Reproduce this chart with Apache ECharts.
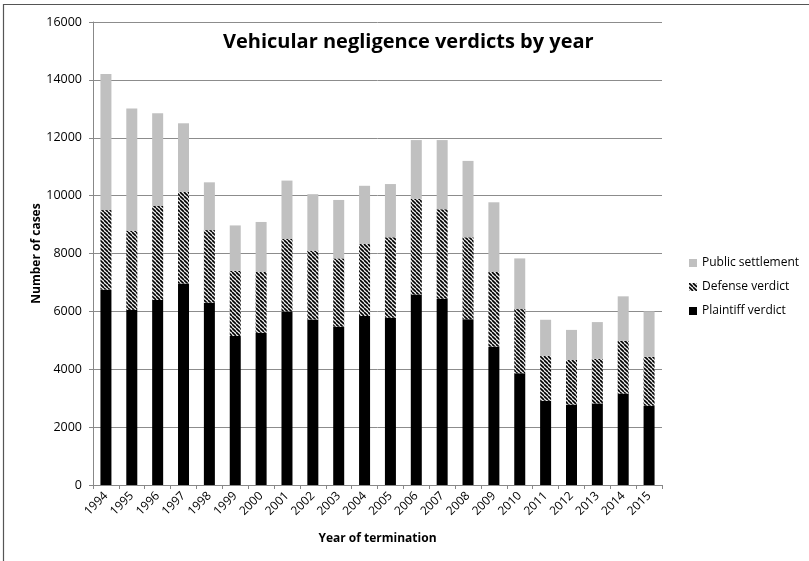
<!DOCTYPE html>
<html>
<head>
<meta charset="utf-8">
<script src="https://cdn.jsdelivr.net/npm/echarts@6/dist/echarts.min.js"></script>
<style>
  html, body { margin: 0; padding: 0; background: #fff; }
  #chart { width: 809px; height: 561px; }
</style>
</head>
<body>
<div id="chart"></div>
<script>
// years on the x axis
const years = ["1994", "1995", "1996", "1997", "1998", "1999", "2000", "2001", "2002", "2003", "2004",
  "2005", "2006", "2007", "2008", "2009", "2010", "2011", "2012", "2013", "2014", "2015"];

// stacked segments
const plaintiff = [6750, 6050, 6390, 6960, 6300, 5150, 5260, 6000, 5720, 5470, 5840,
  5780, 6580, 6440, 5730, 4780, 3860, 2910, 2780, 2820, 3160, 2740];
const defense = [2750, 2740, 3250, 3170, 2510, 2250, 2100, 2500, 2380, 2360, 2490,
  2780, 3310, 3090, 2830, 2580, 2220, 1550, 1540, 1540, 1820, 1690];
const publicSettlement = [4700, 4220, 3210, 2370, 1650, 1570, 1730, 2020, 1950, 2020, 2010,
  1840, 2030, 2390, 2640, 2410, 1750, 1250, 1040, 1270, 1540, 1570];

const font = "'Open Sans', sans-serif";

// hatch for the defense bars
function hatch() {
  var c = document.createElement("canvas");
  c.width = 4;
  c.height = 4;
  var ctx = c.getContext("2d");
  ctx.fillStyle = "#f2f2f2";
  ctx.fillRect(0, 0, 4, 4);
  ctx.strokeStyle = "#000";
  ctx.lineWidth = 1.6;
  [-4, 0, 4].forEach(function(k) {
    ctx.beginPath();
    ctx.moveTo(k, 0);
    ctx.lineTo(k + 4, 4);
    ctx.stroke();
  });
  return c;
}

var myChart = echarts.init(document.getElementById("chart"));
var option = {
  animation: false,
  backgroundColor: "#fff",
  title: {
    text: "Vehicular negligence verdicts by year",
    left: 218,
    top: 27,
    textStyle: { fontFamily: font, fontWeight: "bold", fontSize: 20, color: "#000" },
  },
  graphic: [
    {
      type: "rect",
      shape: { x: 3.5, y: 4.5, width: 900, height: 700 },
      style: { fill: "none", stroke: "#555", lineWidth: 1.2 },
      silent: true,
    },
  ],
  legend: {
    orient: "vertical",
    left: 684,
    top: 252,
    icon: "rect",
    itemWidth: 8,
    itemHeight: 8,
    itemGap: 12,
    textStyle: { fontFamily: font, fontSize: 12, color: "#000" },
    data: ["Public settlement", "Defense verdict", "Plaintiff verdict"],
  },
  grid: { left: 93, right: 147, top: 22, bottom: 76 },
  xAxis: {
    type: "category",
    data: years,
    name: "Year of termination",
    nameLocation: "middle",
    nameGap: 48,
    nameTextStyle: { fontFamily: font, fontWeight: "bold", fontSize: 12, color: "#000" },
    axisLine: { lineStyle: { color: "#888" } },
    axisTick: { show: true, alignWithLabel: false, length: 4, lineStyle: { color: "#888" } },
    axisLabel: { rotate: 45, fontFamily: font, fontSize: 12, color: "#000", margin: 9 },
  },
  yAxis: {
    type: "value",
    min: 0,
    max: 16000,
    interval: 2000,
    name: "Number of cases",
    nameLocation: "middle",
    nameGap: 50,
    nameMoveOverlap: false,
    nameTextStyle: { fontFamily: font, fontWeight: "bold", fontSize: 12, color: "#000" },
    axisLine: { show: true, lineStyle: { color: "#888" } },
    axisTick: { show: true, length: 4, lineStyle: { color: "#888" } },
    axisLabel: {
      fontFamily: font,
      fontSize: 12.5,
      color: "#000",
      margin: 11,
      formatter: function(v) {
        return String(v);
      },
    },
    splitLine: { lineStyle: { color: "#8c8c8c" } },
  },
  series: [
    {
      name: "Plaintiff verdict",
      type: "bar",
      stack: "Total",
      barWidth: 11,
      itemStyle: { color: "#000" },
      data: plaintiff,
    },
    {
      name: "Defense verdict",
      type: "bar",
      stack: "Total",
      barWidth: 11,
      itemStyle: { color: { image: hatch(), repeat: "repeat" } },
      data: defense,
    },
    {
      name: "Public settlement",
      type: "bar",
      stack: "Total",
      barWidth: 11,
      itemStyle: { color: "#c0c0c0" },
      data: publicSettlement,
    },
  ],
};
myChart.setOption(option);
</script>
</body>
</html>
